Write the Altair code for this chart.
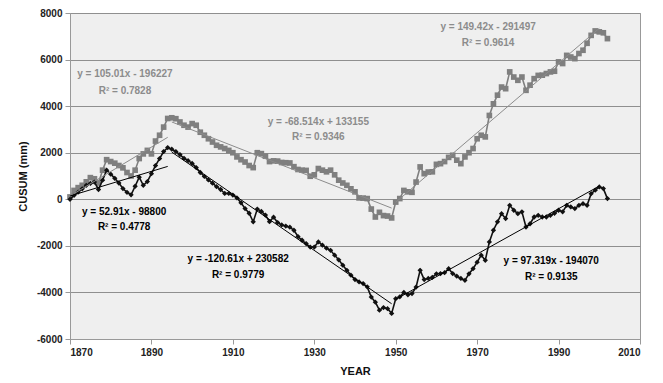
import altair as alt
import pandas as pd

# ---------------- data ----------------
years = list(range(1870, 2003))

gray_cusum = [
    100, 380, 500, 600, 750, 930, 880, 700, 1250, 1700,          # 1870-1879
    1620, 1550, 1450, 1350, 1150, 1000, 1250, 1750, 1950, 2100,  # 1880-1889
    1950, 2500, 2750, 3100, 3470, 3500, 3460, 3320, 3180, 3100,  # 1890-1899
    3250, 3180, 2880, 2750, 2600, 2460, 2320, 2250, 2180, 2100,  # 1900-1909
    2000, 1820, 1700, 1600, 1450, 1360, 2000, 1960, 1850, 1620,  # 1910-1919
    1650, 1640, 1580, 1570, 1560, 1400, 1280, 1250, 1240, 990,   # 1920-1929
    1050, 1320, 1250, 1180, 1250, 1050, 820, 700, 600, 450,      # 1930-1939
    320, 60, 50, 30, -420, -760, -560, -700, -720, -800,         # 1940-1949
    -120, 30, 380, 320, 300, 740, 1390, 1100, 1170, 1180,        # 1950-1959
    1500, 1530, 1620, 1800, 1890, 1680, 1530, 1820, 2000, 2180,  # 1960-1969
    2600, 2750, 2680, 3600, 4100, 4470, 4820, 4750, 5470, 5250,  # 1970-1979
    5110, 5250, 4680, 4900, 5180, 5320, 5330, 5400, 5470, 5500,  # 1980-1989
    5900, 5830, 6180, 6110, 6040, 6260, 6400, 6700, 7040, 7230,  # 1990-1999
    7190, 7150, 6900,                                            # 2000-2002
]

black_cusum = [
    0, 170, 310, 450, 600, 680, 740, 420, 820, 1250,             # 1870-1879
    1080, 900, 700, 460, 300, 190, 560, 950, 600, 760,           # 1880-1889
    1100, 1450, 1750, 2050, 2220, 2150, 2050, 1920, 1760, 1660,  # 1890-1899
    1540, 1360, 1150, 980, 830, 690, 540, 420, 250, 250,         # 1900-1909
    180, 60, -150, -400, -600, -970, -420, -520, -680, -960,     # 1910-1919
    -770, -1000, -1100, -1150, -1200, -1330, -1600, -1760, -1900, -2050,  # 1920-1929
    -2050, -1830, -1970, -2100, -2190, -2400, -2600, -2830, -3050, -3260, # 1930-1939
    -3450, -3550, -3620, -3760, -4200, -4420, -4760, -4650, -4700, -4900, # 1940-1949
    -4270, -4190, -4000, -4100, -4050, -3770, -3050, -3450, -3400, -3350, # 1950-1959
    -3200, -3190, -3150, -2980, -3190, -3300, -3400, -3480, -3200, -2980, # 1960-1969
    -2700, -2400, -2620, -1830, -1330, -970, -620, -830, -260, -470,      # 1970-1979
    -620, -540, -1190, -1050, -760, -690, -760, -760, -690, -600,         # 1980-1989
    -470, -540, -260, -330, -400, -260, -190, -260, 240, 390,             # 1990-1999
    530, 460, 30,                                                         # 2000-2002
]

# trendlines (Excel linear fits per period)
trend_series = ["gray", "gray", "gray", "black", "black", "black"]
trend_start = [1870, 1895, 1950, 1870, 1895, 1950]
trend_end = [1894, 1949, 2000, 1894, 1949, 2000]
trend_slope = [105.01, -68.514, 149.42, 52.91, -120.61, 97.319]
trend_intercept = [-196227, 133155, -291497, -98800, 230582, -194070]
trend_r2 = ["0.7828", "0.9346", "0.9614", "0.4778", "0.9779", "0.9135"]

# annotation anchor positions (data coordinates)
label_x = [1883.5, 1931.0, 1972.7, 1883.3, 1911.3, 1988.2]
label_y_eq = [5380, 3319, 7399, -546, -2564, -2650]
label_y_r2 = [4650, 2675, 6712, -1190, -3251, -3337]

x_ticks = [1870, 1890, 1910, 1930, 1950, 1970, 1990, 2010]
y_ticks = [-6000, -4000, -2000, 0, 2000, 4000, 6000, 8000]

# ---------------- frames ----------------
gray_df = pd.DataFrame({"year": years, "cusum": gray_cusum})
black_df = pd.DataFrame({"year": years, "cusum": black_cusum})

trend_rows = []
for i, s in enumerate(trend_series):
    for yr in (trend_start[i], trend_end[i]):
        trend_rows.append({"seg": i, "series": s, "year": yr,
                           "cusum": trend_slope[i] * yr + trend_intercept[i]})
trend_df = pd.DataFrame(trend_rows)

label_rows = []
for i, s in enumerate(trend_series):
    b = trend_intercept[i]
    sign = "-" if b < 0 else "+"
    eq = f"y = {trend_slope[i]}x {sign} {abs(b)}"
    label_rows.append({"series": s, "year": label_x[i], "cusum": label_y_eq[i], "text": eq})
    label_rows.append({"series": s, "year": label_x[i], "cusum": label_y_r2[i],
                       "text": f"R\u00b2 = {trend_r2[i]}"})
label_df = pd.DataFrame(label_rows)

FONT = "Liberation Sans"
GRAY = "#7f7f7f"
BLACK = "#111111"

xscale = alt.Scale(domain=[1870, 2010], nice=False, zero=False)
yscale = alt.Scale(domain=[-6000, 8000], nice=False, zero=False)

xenc = alt.X("year:Q", scale=xscale,
             axis=alt.Axis(title="YEAR", values=x_ticks, grid=False,
                           labelExpr="'' + datum.value"))
yenc = alt.Y("cusum:Q", scale=yscale,
             axis=alt.Axis(title="CUSUM (mm)", values=y_ticks, grid=True,
                           labelExpr="'' + datum.value"))

gray_line = alt.Chart(gray_df).mark_line(color=GRAY, strokeWidth=1.6).encode(x=xenc, y=yenc)
gray_pts = alt.Chart(gray_df).mark_point(shape="square", filled=True, color=GRAY,
                                         size=32, opacity=1).encode(x="year:Q", y="cusum:Q")
black_line = alt.Chart(black_df).mark_line(color=BLACK, strokeWidth=1.6).encode(x="year:Q", y="cusum:Q")
black_pts = alt.Chart(black_df).mark_point(shape="diamond", filled=True, color=BLACK,
                                           size=28, opacity=1).encode(x="year:Q", y="cusum:Q")

trend = alt.Chart(trend_df).mark_line(strokeWidth=1).encode(
    x="year:Q", y="cusum:Q", detail="seg:N",
    color=alt.Color("series:N", scale=alt.Scale(domain=["gray", "black"], range=["#8c8c8c", "#000000"]),
                    legend=None),
)

labels = alt.Chart(label_df).mark_text(font=FONT, fontSize=10, fontWeight="bold",
                                       align="center", baseline="middle").encode(
    x="year:Q", y="cusum:Q", text="text:N",
    color=alt.Color("series:N", scale=alt.Scale(domain=["gray", "black"], range=["#7a7a7a", "#111111"]),
                    legend=None),
)

chart = alt.layer(gray_line, gray_pts, black_line, black_pts, trend, labels).properties(
    width=570, height=326,
    autosize=alt.AutoSizeParams(type="none"),
    padding={"left": 70, "top": 13, "right": 23, "bottom": 44},
    background="white",
).configure_view(
    fill="#efefef", stroke="#999999", strokeWidth=1,
).configure_axis(
    labelFont=FONT, titleFont=FONT, labelFontSize=10, titleFontSize=11,
    labelFontWeight="bold", titleFontWeight="bold",
    labelColor="#222222", titleColor="#111111",
    domainColor="#999999", tickColor="#999999", tickSize=5,
    gridColor="#8f8f8f", gridWidth=1, gridOpacity=1,
).configure_axisX(
    labelPadding=3, titlePadding=8,
).configure_axisY(
    labelPadding=3, titlePadding=8,
)

chart.save("out.html", embed_options={"renderer": "svg", "actions": False})
